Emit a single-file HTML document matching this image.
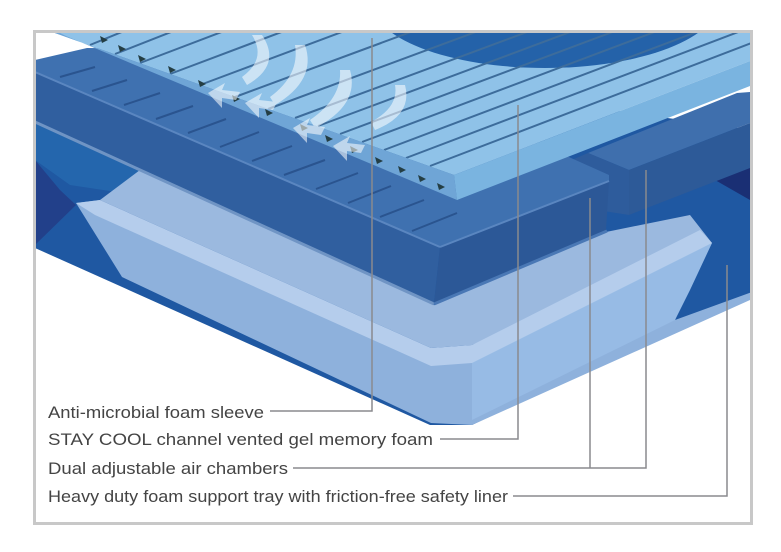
<!DOCTYPE html>
<html><head><style>html,body{margin:0;padding:0;background:#fff;}svg{display:block}</style></head>
<body>
<svg width="781" height="552" viewBox="0 0 781 552" xmlns="http://www.w3.org/2000/svg">
<defs><clipPath id="fr"><rect x="35" y="32" width="716" height="490"/></clipPath>
<clipPath id="sheetTop"><polygon points="52,32 454,175 750,61 750,32"/></clipPath></defs>
<rect x="0" y="0" width="781" height="552" fill="#fff"/>
<g clip-path="url(#fr)">
<polygon points="35,110 35,248 430,425 472,425 752,292 752,130 400,80" fill="#1f58a2"/>
<polygon points="35,160 35,245 76,205 60,190" fill="#22408a"/>
<polygon points="35,120 35,160 70,185 170,200 150,175" fill="#2466ad"/>
<polygon points="700,160 750,140 750,200 715,180" fill="#1a2f74"/>
<!-- inner tray surface -->
<polygon points="100,200 140,170 434,305 606,232 690,215 712,243 472,345 431,348" fill="#9bb9df"/>
<!-- tray light outer face -->
<polygon points="76,203 100,200 118,215 431,355 472,352 700,232 712,243 695,270 675,320 752,292 750,300 472,425 431,423 122,277 99,240" fill="#8eb1dc"/>
<polygon points="472,352 712,243 690,290 675,320 472,420" fill="#97bbe5"/>
<polygon points="76,203 100,200 431,348 472,345 700,230 712,243 472,363 431,366 95,215" fill="#b5cdec"/>
<!-- right chamber -->
<polygon points="588,153 629,170 750,123 750,92 737,93" fill="#3f6fad"/>
<polygon points="560,165 588,153 629,170 629,215 565,205" fill="#2e5c9c"/>
<polygon points="629,170 750,123 750,168 629,215" fill="#2d5a98"/>
<!-- left chamber -->
<polygon points="35,60 87,48 330,50 609,175 609,181 440,247 35,72" fill="#3f71b0"/>
<polygon points="35,72 440,247 434,303 35,121" fill="#305f9f"/>
<polygon points="440,247 609,181 606,230 434,303" fill="#2c5897"/>
<line x1="35" y1="72" x2="440" y2="247" stroke="#5a86c0" stroke-width="2"/>
<line x1="440" y1="247" x2="609" y2="181" stroke="#5a86c0" stroke-width="2"/>
<line x1="35" y1="122" x2="434" y2="304" stroke="#6f94c4" stroke-width="3"/>
<line x1="434" y1="304" x2="607" y2="231" stroke="#4a78b5" stroke-width="3"/>
<g stroke="#2a548f" stroke-width="2">
<line x1="60" y1="77" x2="95" y2="67"/><line x1="92" y1="91" x2="127" y2="80"/>
<line x1="124" y1="105" x2="160" y2="93"/><line x1="156" y1="119" x2="193" y2="106"/>
<line x1="188" y1="133" x2="226" y2="119"/><line x1="220" y1="147" x2="259" y2="132"/>
<line x1="252" y1="161" x2="292" y2="146"/><line x1="284" y1="175" x2="325" y2="160"/>
<line x1="316" y1="189" x2="358" y2="173"/><line x1="348" y1="203" x2="391" y2="186"/>
<line x1="380" y1="217" x2="424" y2="200"/><line x1="412" y1="231" x2="457" y2="213"/>
</g>
<!-- gel sheet -->
<polygon points="52,32 454,175 750,61 750,32" fill="#8fc2e8"/>
<g clip-path="url(#sheetTop)">
<ellipse cx="545" cy="0" rx="175" ry="68" fill="#2462a9"/>
<g stroke="#3d6c9b" stroke-width="2">
<line x1="90" y1="45" x2="200" y2="0"/><line x1="115" y1="54" x2="245" y2="3"/>
<line x1="140" y1="63" x2="290" y2="6"/><line x1="170" y1="74" x2="340" y2="10"/>
<line x1="200" y1="85" x2="390" y2="14"/><line x1="235" y1="97" x2="700" y2="-75"/>
<line x1="268" y1="109" x2="740" y2="-66"/><line x1="295" y1="118" x2="770" y2="-58"/>
<line x1="318" y1="126" x2="790" y2="-50"/><line x1="340" y1="134" x2="810" y2="-42"/>
<line x1="362" y1="142" x2="830" y2="-34"/><line x1="384" y1="150" x2="850" y2="-26"/>
<line x1="406" y1="158" x2="870" y2="-18"/><line x1="430" y1="166" x2="890" y2="-10"/>
</g></g>
<polygon points="52,32 454,175 457,200 66,36 58,32" fill="#6fa5d6"/>
<polygon points="454,175 750,61 750,86 457,200" fill="#7ab4e0"/>
<g fill="#243e44">
<polygon points="100,36 108,40 102,43"/><polygon points="118,45 126,49 120,52"/><polygon points="138,55 146,59 140,62"/>
<polygon points="168,66 176,70 170,73"/><polygon points="198,80 206,84 200,87"/><polygon points="232,95 240,99 234,102"/>
<polygon points="265,109 273,113 267,116"/><polygon points="300,124 308,128 302,131"/><polygon points="325,135 333,139 327,142"/>
<polygon points="350,146 358,150 352,153"/><polygon points="375,157 383,161 377,164"/><polygon points="398,166 406,170 400,173"/>
<polygon points="418,175 426,179 420,182"/><polygon points="437,183 445,187 439,190"/>
</g>
<g fill="#ffffff" opacity="0.55">
<path d="M262,35 q20,30 -15,50 l-5,-8 q25,-18 10,-42z"/>
<path d="M305,45 q12,35 -30,60 l-5,-8 q30,-22 25,-52z"/>
<path d="M350,70 q10,35 -35,58 l-5,-8 q32,-22 30,-50z"/>
<path d="M405,85 q8,30 -30,45 l-4,-8 q28,-15 24,-37z"/>
<polygon points="208,93 225,83 222,90 240,92 236,100 222,98 222,108"/>
<polygon points="245,103 262,93 259,100 277,102 273,110 259,108 259,118"/>
<polygon points="293,128 310,118 307,125 325,127 321,135 307,133 307,143"/>
<polygon points="333,146 350,136 347,143 365,145 361,153 347,151 347,161"/>
</g>
</g>
<rect x="34.5" y="31.5" width="717" height="492" fill="none" stroke="#c8c8c8" stroke-width="3"/>
<g stroke="#8a8a8e" stroke-width="1.5" fill="none">
<polyline points="270,411 372,411 372,38"/>
<polyline points="440,439 518,439 518,105"/>
<polyline points="293,468 646,468 646,170"/>
<line x1="590" y1="468" x2="590" y2="198"/>
<polyline points="513,496 727,496 727,265"/>
</g>
<g font-family="Liberation Sans, sans-serif" font-size="17" fill="#444">
<text x="48" y="418" textLength="216" lengthAdjust="spacingAndGlyphs">Anti-microbial foam sleeve</text>
<text x="48" y="445" textLength="385" lengthAdjust="spacingAndGlyphs">STAY COOL channel vented gel memory foam</text>
<text x="48" y="474" textLength="240" lengthAdjust="spacingAndGlyphs">Dual adjustable air chambers</text>
<text x="48" y="502" textLength="460" lengthAdjust="spacingAndGlyphs">Heavy duty foam support tray with friction-free safety liner</text>
</g>
</svg>
</body></html>
